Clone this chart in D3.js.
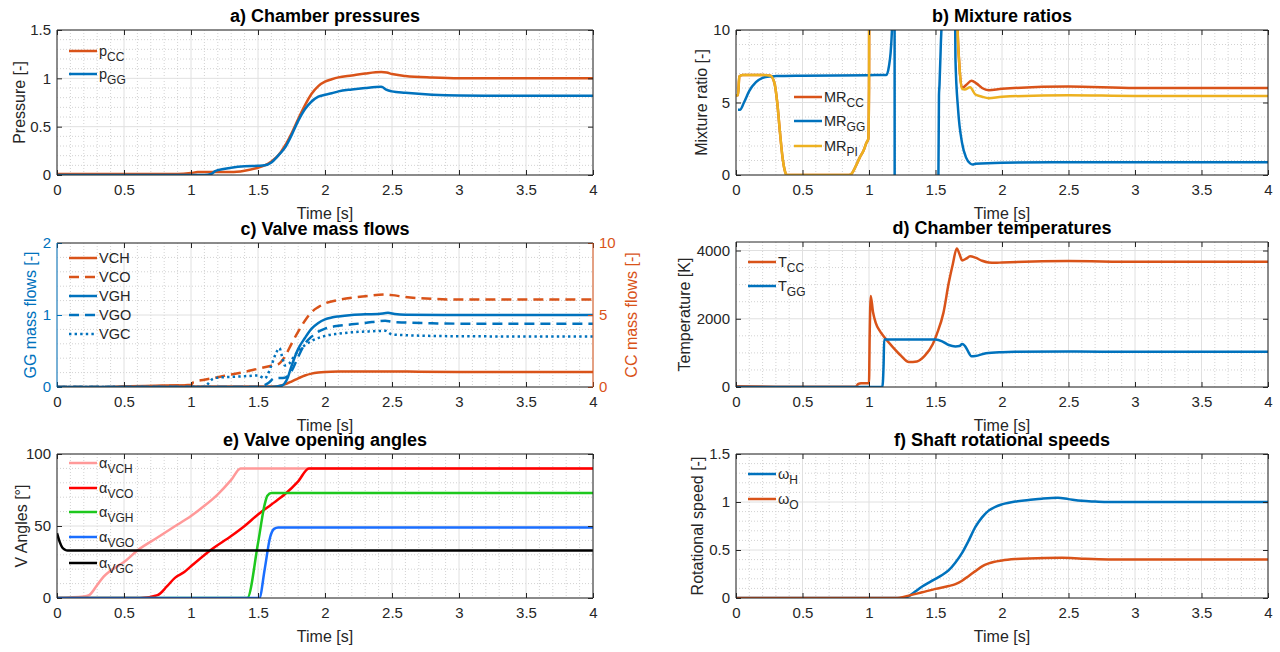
<!DOCTYPE html>
<html><head><meta charset="utf-8">
<script src="https://cdn.jsdelivr.net/npm/d3@7"></script>
<style>
body{margin:0;background:#fff}
text{font-family:"Liberation Sans",Arial,Helvetica,sans-serif;fill:#262626}
</style>
</head><body>
<svg id="chart" width="1280" height="652"></svg>
<script>
// ---------- DATA ----------
const xTicks = [0,0.5,1,1.5,2,2.5,3,3.5,4];

// a) Chamber pressures
const tPcc = [0,0.9,1.0,1.05,1.1,1.2,1.3,1.4,1.5,1.55,1.6,1.65,1.7,1.75,1.8,1.85,1.9,1.95,2.0,2.05,2.1,2.2,2.3,2.42,2.46,2.5,2.6,2.8,3.0,3.5,4.0];
const pCC  = [0.01,0.01,0.02,0.03,0.03,0.03,0.03,0.045,0.075,0.1,0.14,0.2,0.3,0.43,0.58,0.72,0.84,0.92,0.965,0.99,1.01,1.03,1.05,1.065,1.06,1.045,1.025,1.008,1.0,1.0,1.0];
const tPgg = [0,1.1,1.15,1.18,1.2,1.3,1.4,1.5,1.55,1.6,1.65,1.7,1.75,1.8,1.85,1.9,1.95,2.0,2.05,2.1,2.2,2.3,2.42,2.46,2.5,2.6,2.8,3.0,3.5,4.0];
const pGG  = [0,0,0.01,0.04,0.05,0.075,0.09,0.095,0.1,0.13,0.2,0.28,0.41,0.56,0.68,0.76,0.81,0.83,0.845,0.865,0.885,0.9,0.912,0.88,0.865,0.85,0.83,0.822,0.82,0.82];

// b) Mixture ratios
const tMRpi = [0,0.015,0.025,0.05,0.1,0.2,0.26,0.29,0.31,0.33,0.35,0.37,0.38,0.5,0.85,0.87,0.9,0.93,0.96,0.98,0.995,1.0,1.005,1.64,1.66,1.68,1.7,1.72,1.76,1.8,1.85,1.9,2.0,2.5,3.0,4.0];
const MRpi  = [5.5,5.5,6.8,6.9,6.9,6.9,6.85,6.3,5.0,3.0,1.2,0.2,0,0,0,0.1,0.6,1.2,1.7,2.2,2.5,6,30,30,12,7.5,5.95,5.9,6.05,5.55,5.4,5.3,5.4,5.5,5.45,5.45];
const tMRcc = [0,0.015,0.025,0.05,0.1,0.2,0.26,0.29,0.31,0.33,0.35,0.37,0.38,0.5,0.85,0.87,0.9,0.93,0.96,0.98,0.995,1.0,1.005,1.64,1.66,1.68,1.7,1.73,1.77,1.81,1.85,1.9,2.0,2.5,3.0,4.0];
const MRcc  = [5.5,5.5,6.8,6.9,6.9,6.9,6.85,6.3,5.0,3.0,1.2,0.2,0,0,0,0.1,0.6,1.2,1.7,2.2,2.5,6,30,30,12,7.5,6.0,6.2,6.5,6.3,6.0,5.85,5.95,6.1,6.0,6.0];
const tMRgg = [0.015,0.03,0.06,0.1,0.15,0.2,0.25,0.3,0.5,1.0,1.1,1.13,1.15,1.17,1.18,1.19,1.196,1.2,1.51,1.522,1.526,1.53,1.54,1.55,1.56,1.63,1.65,1.67,1.7,1.73,1.76,1.78,1.8,2.0,2.5,4.0];
const MRgg  = [4.5,4.5,5.0,5.8,6.4,6.7,6.8,6.82,6.85,6.88,6.9,6.9,7.5,9.5,12,40,-40,-40,-40,0,5.5,6.2,9,12,30,30,8,4.5,2.2,1.2,0.8,0.72,0.78,0.85,0.88,0.88];

// c) Valve mass flows (VCH, VCO on CC axis 0-10; VGH, VGO, VGC on GG axis 0-2)
const tVCH = [0,0.4,0.5,0.8,1.0,1.02,1.6,1.65,1.7,1.75,1.8,1.85,1.9,1.95,2.0,2.1,2.3,2.5,2.7,3.0,4.0];
const VCH  = [0,0,0.05,0.1,0.12,0.03,0.03,0.06,0.18,0.38,0.6,0.8,0.93,1.0,1.04,1.07,1.08,1.08,1.06,1.05,1.05];
const tVCO = [0,0.4,1.0,1.02,1.1,1.2,1.3,1.4,1.5,1.6,1.65,1.7,1.75,1.8,1.85,1.9,1.95,2.0,2.1,2.2,2.3,2.45,2.5,2.6,2.8,3.0,4.0];
const VCO  = [0,0,0.15,0.35,0.5,0.68,0.87,1.05,1.27,1.48,1.58,2.1,3.0,3.85,4.6,5.2,5.55,5.8,6.05,6.2,6.3,6.42,6.38,6.25,6.12,6.07,6.07];
const tVGH = [0,1.6,1.68,1.72,1.75,1.8,1.85,1.9,1.95,2.0,2.05,2.1,2.2,2.3,2.4,2.47,2.52,2.6,3.0,4.0];
const VGH  = [0,0,0.02,0.12,0.29,0.53,0.68,0.81,0.89,0.94,0.965,0.98,1.0,1.01,1.015,1.03,1.015,1.005,1.0,1.0];
const tVGO = [0,1.5,1.58,1.62,1.7,1.75,1.8,1.85,1.9,1.95,2.0,2.1,2.2,2.3,2.45,2.5,2.6,2.8,3.0,4.0];
const VGO  = [0,0,0.06,0.12,0.13,0.22,0.42,0.6,0.7,0.77,0.81,0.85,0.87,0.89,0.92,0.905,0.895,0.885,0.88,0.88];
const tVGC = [0,1.1,1.13,1.16,1.2,1.3,1.4,1.5,1.55,1.6,1.63,1.66,1.68,1.7,1.73,1.76,1.8,1.85,1.9,2.0,2.1,2.2,2.3,2.45,2.5,2.6,3.0,4.0];
const VGC  = [0,0,0.05,0.11,0.13,0.14,0.15,0.16,0.12,0.3,0.45,0.54,0.42,0.3,0.32,0.4,0.5,0.58,0.64,0.71,0.74,0.76,0.77,0.78,0.73,0.72,0.705,0.70];

// d) Chamber temperatures
const tTcc = [0,0.3,0.9,0.92,0.94,1.0,1.005,1.013,1.03,1.05,1.08,1.11,1.18,1.24,1.3,1.36,1.42,1.48,1.51,1.56,1.6,1.63,1.66,1.68,1.7,1.73,1.76,1.8,1.85,1.9,1.95,2.0,2.5,3.0,4.0];
const Tcc  = [20,10,10,90,110,110,1500,2670,2200,1890,1650,1485,1165,920,730,750,920,1260,1550,2180,3060,3600,4060,3900,3710,3760,3830,3790,3700,3650,3640,3650,3690,3670,3670];
const tTgg = [0,1.1,1.11,1.114,1.5,1.55,1.6,1.65,1.68,1.7,1.72,1.74,1.77,1.8,1.88,2.0,2.1,2.5,3.0,4.0];
const Tgg  = [0,0,700,1390,1390,1340,1230,1190,1200,1260,1210,1080,900,910,990,1020,1030,1040,1030,1030];

// e) Valve opening angles
const tAvch = [0,0.2,0.24,0.3,0.35,0.4,0.5,0.6,0.75,0.9,1.0,1.1,1.2,1.3,1.37,1.4,4.0];
const Avch  = [0,1,2,9,15,19,25,33,42,51,57,64,72,82,90,90,90];
const tAvco = [0,0.62,0.75,0.82,0.88,0.95,1.0,1.15,1.3,1.4,1.5,1.6,1.7,1.8,1.88,1.9,4.0];
const Avco  = [0,0,2,8,14,18,22,33.5,43,50,58,65,72,81,90,90,90];
const tAvgh = [0,1.42,1.5,1.55,1.57,1.6,4.0];
const Avgh  = [0,0,38,65,71,73,73];
const tAvgo = [0,1.51,1.55,1.59,1.62,1.65,4.0];
const Avgo  = [0,0,20,42,48,49,49];
const tAvgc = [0,0.02,0.04,0.06,0.08,0.12,4.0];
const Avgc  = [45,39,35,33.5,33,33,33];

// f) Shaft rotational speeds
const tWh = [0,1.25,1.3,1.35,1.4,1.45,1.5,1.55,1.6,1.65,1.7,1.75,1.8,1.85,1.9,1.95,2.0,2.1,2.2,2.3,2.42,2.5,2.6,2.7,2.8,3.0,4.0];
const Wh  = [0,0,0.02,0.07,0.12,0.16,0.2,0.24,0.29,0.37,0.47,0.6,0.74,0.84,0.91,0.95,0.975,1.005,1.02,1.035,1.045,1.03,1.012,1.005,1.0,1.0,1.0];
const tWo = [0,1.2,1.3,1.4,1.5,1.6,1.65,1.7,1.75,1.8,1.85,1.9,2.0,2.1,2.2,2.45,2.6,2.8,3.0,4.0];
const Wo  = [0,0,0.025,0.06,0.095,0.125,0.145,0.18,0.23,0.28,0.33,0.36,0.39,0.405,0.412,0.418,0.41,0.402,0.4,0.4];

// ---------- STYLE ----------
const C_OR = "#D95319", C_BL = "#0072BD", C_YE = "#EDB120";
const AX = "#262626";
const svg = d3.select("#chart");
const FONT_T = 15, FONT_L = 16, FONT_TITLE = 18, FONT_LEG = 14.5;

function zip(t, v){ return t.map((d,i)=>[d, v[i]]); }

function panel(o){
  const g = svg.append("g");
  const x = d3.scaleLinear([0,4],[o.x0,o.x1]);
  const y = d3.scaleLinear(o.ydom,[o.y1,o.y0]);
  const yR = o.right ? d3.scaleLinear(o.right.dom,[o.y1,o.y0]) : null;
  const id = "clip"+o.key;
  svg.append("defs").append("clipPath").attr("id",id)
    .append("rect").attr("x",o.x0).attr("y",o.y0).attr("width",o.x1-o.x0).attr("height",o.y1-o.y0);

  // minor grid
  const xMinor = d3.range(0,4.0001,0.1).filter(v=>Math.abs(v*2-Math.round(v*2))>1e-6);
  g.selectAll(null).data(xMinor).join("line")
    .attr("x1",d=>x(d)).attr("x2",d=>x(d)).attr("y1",o.y0).attr("y2",o.y1)
    .attr("stroke","#d2d2d2").attr("stroke-width",1).attr("stroke-dasharray","1,2");
  const yMinor = d3.range(o.ydom[0],o.ydom[1]+1e-9,o.ymin).filter(v=>!o.yticks.some(t=>Math.abs(t-v)<1e-6));
  g.selectAll(null).data(yMinor).join("line")
    .attr("x1",o.x0).attr("x2",o.x1).attr("y1",d=>y(d)).attr("y2",d=>y(d))
    .attr("stroke","#d2d2d2").attr("stroke-width",1).attr("stroke-dasharray","1,2");
  // major grid
  g.selectAll(null).data(xTicks).join("line")
    .attr("x1",d=>x(d)).attr("x2",d=>x(d)).attr("y1",o.y0).attr("y2",o.y1)
    .attr("stroke","#e0e0e0").attr("stroke-width",1);
  g.selectAll(null).data(o.yticks).join("line")
    .attr("x1",o.x0).attr("x2",o.x1).attr("y1",d=>y(d)).attr("y2",d=>y(d))
    .attr("stroke","#e0e0e0").attr("stroke-width",1);

  // lines
  const lg = g.append("g").attr("clip-path",`url(#${id})`);
  o.series.forEach(s=>{
    const ys = s.axis==="right" ? yR : y;
    const line = d3.line().x(d=>x(d[0])).y(d=>ys(d[1])).curve(d3.curveMonotoneX);
    lg.append("path").attr("d",line(zip(s.t,s.v)))
      .attr("fill","none").attr("stroke",s.color).attr("stroke-width",2.5)
      .attr("stroke-dasharray",s.dash||null).attr("stroke-linejoin","round");
  });

  // axes (inward ticks)
  const fmt = d=>d3.format("")(d);
  const bx = g.append("g").attr("transform",`translate(0,${o.y1})`)
    .call(d3.axisBottom(x).tickValues(xTicks).tickSize(-5).tickPadding(9).tickFormat(fmt));
  const tx = g.append("g").attr("transform",`translate(0,${o.y0})`)
    .call(d3.axisTop(x).tickValues(xTicks).tickSize(-5).tickFormat(""));
  const ly = g.append("g").attr("transform",`translate(${o.x0},0)`)
    .call(d3.axisLeft(y).tickValues(o.yticks).tickSize(-5).tickPadding(6).tickFormat(fmt));
  let ry;
  if (o.right){
    ry = g.append("g").attr("transform",`translate(${o.x1},0)`)
      .call(d3.axisRight(yR).tickValues(o.right.ticks).tickSize(-5).tickPadding(6).tickFormat(fmt));
  } else {
    ry = g.append("g").attr("transform",`translate(${o.x1},0)`)
      .call(d3.axisRight(y).tickValues(o.yticks).tickSize(-5).tickFormat(""));
  }
  [bx,tx,ly,ry].forEach(a=>{ a.select(".domain").remove(); a.selectAll("text").style("font-size",FONT_T+"px"); });
  const lc = o.leftColor||AX, rc = o.right ? o.right.color : AX;
  bx.selectAll("line").attr("stroke",AX); tx.selectAll("line").attr("stroke",AX);
  bx.selectAll("text").style("fill",AX);
  ly.selectAll("line").attr("stroke",lc); ly.selectAll("text").style("fill",lc);
  ry.selectAll("line").attr("stroke",rc); ry.selectAll("text").style("fill",rc);
  // box
  g.append("line").attr("x1",o.x0).attr("x2",o.x1).attr("y1",o.y1).attr("y2",o.y1).attr("stroke",AX);
  g.append("line").attr("x1",o.x0).attr("x2",o.x1).attr("y1",o.y0).attr("y2",o.y0).attr("stroke",AX);
  g.append("line").attr("x1",o.x0).attr("x2",o.x0).attr("y1",o.y0).attr("y2",o.y1).attr("stroke",lc);
  g.append("line").attr("x1",o.x1).attr("x2",o.x1).attr("y1",o.y0).attr("y2",o.y1).attr("stroke",rc);

  // title & labels
  const cx = (o.x0+o.x1)/2, cy = (o.y0+o.y1)/2;
  g.append("text").attr("x",cx).attr("y",o.y1+44).attr("text-anchor","middle")
    .style("font-size",FONT_L+"px").text("Time [s]");
  g.append("text").attr("transform",`translate(${o.ylx},${cy}) rotate(-90)`).attr("text-anchor","middle")
    .attr("dy","0.35em").style("font-size",FONT_L+"px").style("fill",lc).text(o.ylabel);
  if (o.right){
    g.append("text").attr("transform",`translate(${o.right.lx},${cy}) rotate(-90)`).attr("text-anchor","middle")
      .attr("dy","0.35em").style("font-size",FONT_L+"px").style("fill",o.right.color).text(o.right.label);
  }
  svg.append("text").attr("x",cx).attr("y",o.y0-8).attr("text-anchor","middle")
    .style("font-size",FONT_TITLE+"px").style("font-weight","bold").style("fill","#000").text(o.title);

  // legend
  const lx0 = o.x0 + (o.legX||12);
  o.legend.forEach((s,i)=>{
    const ly0 = o.legY[i];
    g.append("line").attr("x1",lx0).attr("x2",lx0+28).attr("y1",ly0).attr("y2",ly0)
      .attr("stroke",s.color).attr("stroke-width",2.5).attr("stroke-dasharray",s.dash||null);
    const t = g.append("text").attr("x",lx0+30).attr("y",ly0+5).style("font-size",FONT_LEG+"px");
    t.append("tspan").text(s.name);
    if (s.sub) t.append("tspan").attr("dy",5).style("font-size","12px").text(s.sub);
  });
}

// a
const serA = [
  {t:tPcc,v:pCC,color:C_OR,name:"p",sub:"CC"},
  {t:tPgg,v:pGG,color:C_BL,name:"p",sub:"GG"}];
panel({key:"a",x0:57,x1:593,y0:30,y1:175,ydom:[0,1.5],yticks:[0,0.5,1,1.5],ymin:0.1,
  title:"a) Chamber pressures",ylabel:"Pressure [-]",ylx:19,series:serA,legend:serA,legY:[51,74]});

// b
const serB = [
  {t:tMRcc,v:MRcc,color:C_OR,name:"MR",sub:"CC"},
  {t:tMRgg,v:MRgg,color:C_BL,name:"MR",sub:"GG"},
  {t:tMRpi,v:MRpi,color:C_YE,name:"MR",sub:"PI"}];
panel({key:"b",x0:736,x1:1268,y0:30,y1:175,ydom:[0,10],yticks:[0,5,10],ymin:1,
  title:"b) Mixture ratios",ylabel:"Mixture ratio [-]",ylx:701,series:serB,
  legend:serB,legY:[97,121,146],legX:58});

// c
const serC = [
  {t:tVCH,v:VCH,color:C_OR,axis:"right",name:"VCH"},
  {t:tVCO,v:VCO,color:C_OR,axis:"right",dash:"10,6",name:"VCO"},
  {t:tVGH,v:VGH,color:C_BL,name:"VGH"},
  {t:tVGO,v:VGO,color:C_BL,dash:"10,6",name:"VGO"},
  {t:tVGC,v:VGC,color:C_BL,dash:"2.4,3.2",name:"VGC"}];
panel({key:"c",x0:57,x1:593,y0:243,y1:387,ydom:[0,2],yticks:[0,1,2],ymin:0.2,leftColor:C_BL,
  right:{dom:[0,10],ticks:[0,5,10],color:C_OR,label:"CC mass flows [-]",lx:631},
  title:"c) Valve mass flows",ylabel:"GG mass flows [-]",ylx:30,series:serC,legend:serC,
  legY:[258,277,296,315,334]});

// d
const serD = [
  {t:tTcc,v:Tcc,color:C_OR,name:"T",sub:"CC"},
  {t:tTgg,v:Tgg,color:C_BL,name:"T",sub:"GG"}];
panel({key:"d",x0:736,x1:1268,y0:242,y1:387,ydom:[0,4250],yticks:[0,2000,4000],ymin:500,
  title:"d) Chamber temperatures",ylabel:"Temperature [K]",ylx:684,series:serD,legend:serD,legY:[262,286]});

// e
const serE = [
  {t:tAvch,v:Avch,color:"#FF9999",name:"α",sub:"VCH"},
  {t:tAvco,v:Avco,color:"#FF0000",name:"α",sub:"VCO"},
  {t:tAvgh,v:Avgh,color:"#1EC81E",name:"α",sub:"VGH"},
  {t:tAvgo,v:Avgo,color:"#1A6EFF",name:"α",sub:"VGO"},
  {t:tAvgc,v:Avgc,color:"#000000",name:"α",sub:"VGC"}];
panel({key:"e",x0:57,x1:593,y0:454,y1:598,ydom:[0,100],yticks:[0,50,100],ymin:10,
  title:"e) Valve opening angles",ylabel:"V Angles [°]",ylx:21,series:serE,legend:serE,
  legY:[463,488,512,537,563]});

// f
const serF = [
  {t:tWh,v:Wh,color:C_BL,name:"ω",sub:"H"},
  {t:tWo,v:Wo,color:C_OR,name:"ω",sub:"O"}];
panel({key:"f",x0:736,x1:1268,y0:454,y1:598,ydom:[0,1.5],yticks:[0,0.5,1,1.5],ymin:0.1,
  title:"f) Shaft rotational speeds",ylabel:"Rotational speed [-]",ylx:697,series:serF,legend:serF,legY:[474,499]});
</script>
</body></html>
